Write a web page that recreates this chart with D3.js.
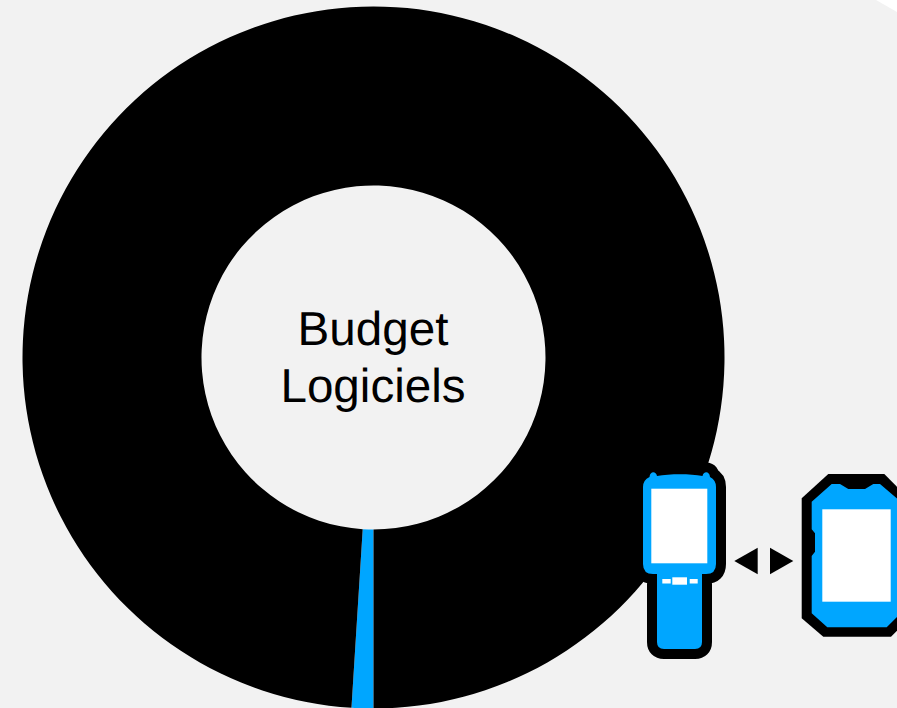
<!DOCTYPE html>
<html>
<head>
<meta charset="utf-8">
<script src="https://cdn.jsdelivr.net/npm/d3@7"></script>
<style>
  html, body { margin: 0; padding: 0; background: #fff; overflow: hidden; }
  svg { display: block; }
  .centerText { font-family: "Liberation Sans", Arial, sans-serif; font-size: 47.6px; fill: #000; text-anchor: middle; text-rendering: geometricPrecision; }
</style>
</head>
<body>
<div id="chart"></div>
<script>
var svgWidth = 897;
var svgHeight = 708;

// slices in drawing order, clockwise from the bottom of the ring
var categories = ["Mobilité", "Autres logiciels"];
var values = [1, 99];
var colors = ["#00a6ff", "#000000"];
var centerLines = ["Budget", "Logiciels"];

var centerX = 373.5;
var centerY = 357.5;
var outerRadius = 351;
var innerRadius = 172;

var svg = d3.select("#chart")
  .append("svg")
  .attr("width", svgWidth)
  .attr("height", svgHeight);

// panel, only its top right corner shows
svg.append("path")
  .attr("d", "M0,0H876L897,12V708H0Z")
  .attr("fill", "#f2f2f2");

var color = d3.scaleOrdinal().domain(categories).range(colors);
var pie = d3.pie()
  .sort(null)
  .startAngle(Math.PI)
  .endAngle(3 * Math.PI)
  .value(d => d.value);
var arc = d3.arc().innerRadius(innerRadius).outerRadius(outerRadius);

var donut = svg.append("g")
  .attr("transform", `translate(${centerX}, ${centerY})`);

donut.selectAll("path")
  .data(pie(categories.map((c, i) => ({ name: c, value: values[i] }))))
  .enter()
  .append("path")
  .attr("d", arc)
  .attr("fill", d => color(d.data.name));

donut.selectAll("text")
  .data(centerLines)
  .enter()
  .append("text")
  .attr("class", "centerText")
  .attr("x", -0.5)
  .attr("y", (d, i) => -13 + i * 57)
  .text(d => d);

// scanner icon
var scanner = svg.append("g");
var scannerPath = "M649.5,477 C650,471 656,471 657,476 C670,473.5 690,473.5 702.5,476 C703.5,471 709.5,471 710,477 Q716,480 716,487 V564 Q716,574 706,574 H702 V642 Q702,649 695,649 H664 Q657,649 657,642 V574 H653 Q643,574 643,564 V487 Q643,480 649.5,477 Z";
scanner.append("path")
  .attr("d", scannerPath)
  .attr("fill", "#00a6ff")
  .attr("stroke", "#000")
  .attr("stroke-width", 20)
  .attr("stroke-linejoin", "round");
scanner.append("path")
  .attr("d", scannerPath)
  .attr("fill", "#00a6ff");
scanner.append("rect").attr("x", 651.3).attr("y", 488.7).attr("width", 56).attr("height", 74.6).attr("fill", "#fff");
scanner.append("rect").attr("x", 662.3).attr("y", 579).attr("width", 8.4).attr("height", 4.5).attr("fill", "#fff");
scanner.append("rect").attr("x", 672.3).attr("y", 577.3).attr("width", 14.7).attr("height", 7.4).attr("fill", "#fff");
scanner.append("rect").attr("x", 689.7).attr("y", 579).attr("width", 8).attr("height", 4.5).attr("fill", "#fff");

// arrows between the two devices
svg.append("path").attr("d", "M734.3,561L757.7,547.7V574.3Z").attr("fill", "#000");
svg.append("path").attr("d", "M770,547.7V574.3L793.3,561Z").attr("fill", "#000");

// tablet icon
var tablet = svg.append("g");
tablet.append("path")
  .attr("d", "M801.7,498.3 L828.3,474 H884.3 L910,500 V617.7 L891,636.7 H823.3 L801.7,618.3 Z")
  .attr("fill", "#000");
tablet.append("path")
  .attr("d", "M811.7,501.7 L831.7,484 H840 L848.3,489 H865 L873.3,484 H880 L900,501 V614 L886.7,627.3 H827.3 L811.7,613.3 V556 L815,551.7 V533.3 L811.7,529.3 Z")
  .attr("fill", "#00a6ff");
tablet.append("rect").attr("x", 822.3).attr("y", 509.3).attr("width", 68.4).attr("height", 92.4).attr("fill", "#fff");
</script>
</body>
</html>
